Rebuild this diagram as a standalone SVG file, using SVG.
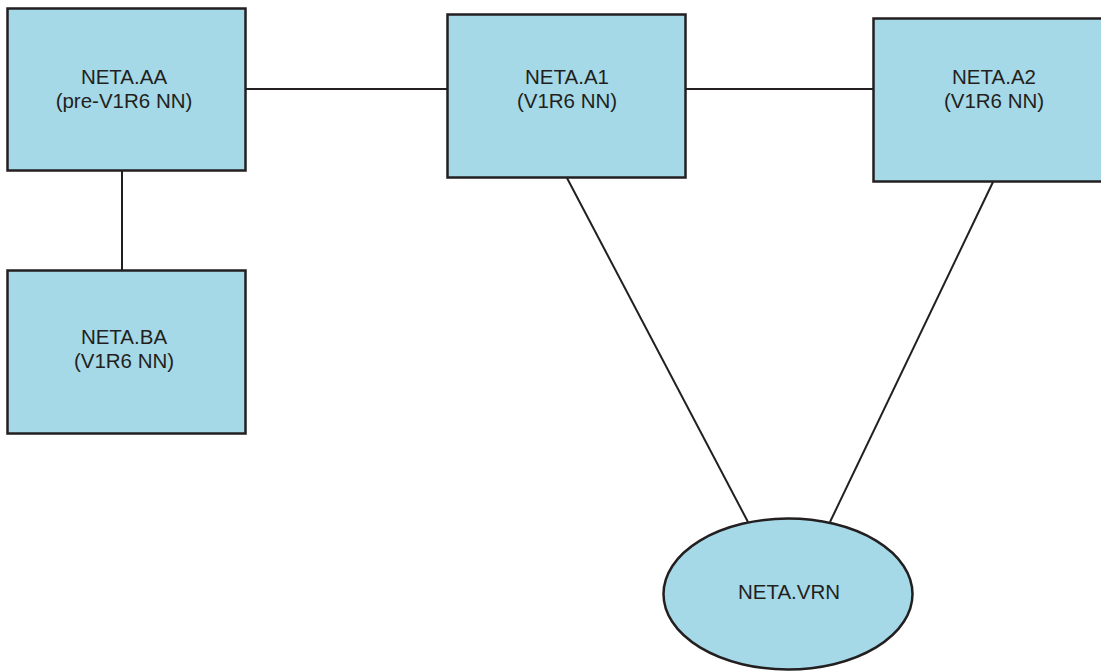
<svg xmlns="http://www.w3.org/2000/svg" width="1101" height="671" viewBox="0 0 1101 671">
<style>
.box{fill:#a5d9e7;stroke:#231f20;stroke-width:2.5}
.lbl{font-family:"Liberation Sans",Arial,sans-serif;font-size:20.5px;fill:#231f20;text-anchor:middle}
.conn line{stroke:#231f20;stroke-width:2}
</style>
<rect width="1101" height="671" fill="#ffffff"/>
<g id="connectors" class="conn">
<line x1="246" y1="89" x2="447" y2="89"/>
<line x1="686" y1="89" x2="873" y2="89"/>
<line x1="122" y1="171" x2="122" y2="271"/>
<line x1="567" y1="178" x2="748" y2="522"/>
<line x1="993" y1="182" x2="830" y2="522"/>
</g>
<g id="NETA.AA">
<rect class="box" x="7.5" y="8.5" width="238" height="162"/>
<text class="lbl" x="124" y="84">NETA.AA</text>
<text class="lbl" x="124" y="108">(pre-V1R6 NN)</text>
</g>
<g id="NETA.A1">
<rect class="box" x="447.5" y="14.5" width="238" height="163"/>
<text class="lbl" x="567" y="84">NETA.A1</text>
<text class="lbl" x="567" y="108">(V1R6 NN)</text>
</g>
<g id="NETA.A2">
<rect class="box" x="873.5" y="18.5" width="230" height="163"/>
<text class="lbl" x="994" y="84">NETA.A2</text>
<text class="lbl" x="994" y="108">(V1R6 NN)</text>
</g>
<g id="NETA.BA">
<rect class="box" x="7.5" y="270.5" width="238" height="163"/>
<text class="lbl" x="124" y="344">NETA.BA</text>
<text class="lbl" x="124" y="368">(V1R6 NN)</text>
</g>
<g id="NETA.VRN">
<ellipse class="box" cx="788" cy="594" rx="124.5" ry="75.5"/>
<text class="lbl" x="789" y="599">NETA.VRN</text>
</g>
</svg>
